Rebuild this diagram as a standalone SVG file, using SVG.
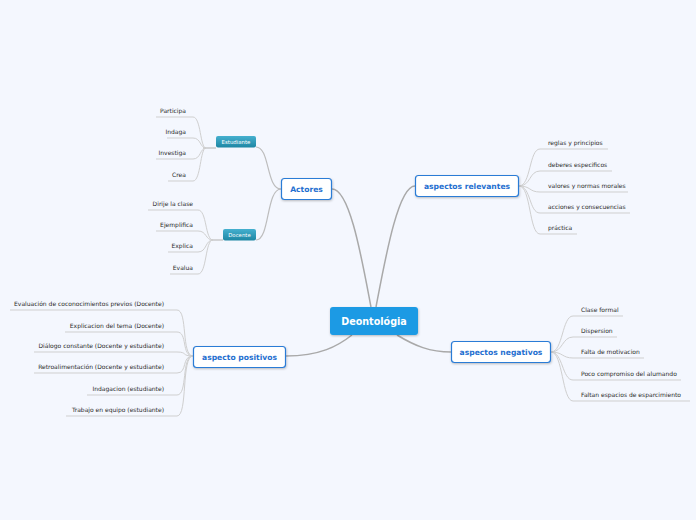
<svg xmlns="http://www.w3.org/2000/svg" width="696" height="520" viewBox="0 0 696 520">
<style>
.bg{fill:#f4f7fe}
.main{stroke:#a9a9a9;stroke-width:1.5;fill:none}
.sub{stroke:#bdbdbd;stroke-width:1.2;fill:none}
.leaf{stroke:#cfcfcf;stroke-width:1;fill:none}
.box{fill:#ffffff;stroke:#2a7bd6;stroke-width:1.2}
.t1{font-family:"DejaVu Sans",Verdana,sans-serif;font-weight:bold;font-size:7.6px;fill:#1f6fd0;text-anchor:middle}
.t0{font-family:"DejaVu Sans",Verdana,sans-serif;font-weight:bold;font-size:9.6px;fill:#ffffff;text-anchor:middle}
.t2{font-family:"DejaVu Sans",Verdana,sans-serif;font-size:5.4px;fill:#ffffff;text-anchor:middle}
.lf{font-family:"DejaVu Sans",Verdana,sans-serif;font-size:6px;fill:#2a2a2a}
.e{text-anchor:end}
</style>
<defs>
<linearGradient id="teal" x1="0" y1="0" x2="0" y2="1">
<stop offset="0" stop-color="#45b0cf"/>
<stop offset="1" stop-color="#1d86a3"/>
</linearGradient>
<filter id="sh" x="-20%" y="-30%" width="140%" height="160%">
<feDropShadow dx="0.5" dy="1" stdDeviation="0.8" flood-color="#000" flood-opacity="0.25"/>
</filter>
</defs>
<rect class="bg" x="0" y="0" width="696" height="520"/>
<g id="connectors">
<path class="main" d="M332,189 C350,189 362,260 371,307"/>
<path class="main" d="M415,186 C398,186 385,260 376,307"/>
<path class="main" d="M286,356 C320,356 338,346 352,335"/>
<path class="main" d="M397,335 C415,346 430,352 451,352"/>
<path class="sub" d="M281,189 C266,189 270,147 256,147"/>
<path class="sub" d="M281,189 C266,189 270,240 256,240"/>
<path class="sub" d="M203,148 L216,148"/>
<path class="sub" d="M212,240 L223,240"/>
<path class="leaf" d="M156,117 L193,117 C201,117 200,148 206,148"/>
<path class="leaf" d="M167,138 L193,138 C201,138 200,148 206,148"/>
<path class="leaf" d="M156,159 L193,159 C201,159 200,148 206,148"/>
<path class="leaf" d="M168,181 L193,181 C201,181 200,148 206,148"/>
<path class="leaf" d="M148,210 L198,210 C207,210 205,240 213,240"/>
<path class="leaf" d="M156,231 L198,231 C207,231 205,240 213,240"/>
<path class="leaf" d="M168,252 L198,252 C207,252 205,240 213,240"/>
<path class="leaf" d="M170,274 L198,274 C207,274 205,240 213,240"/>
<path class="leaf" d="M519,186 C531,186 529,149 540,149 L608,149"/>
<path class="leaf" d="M519,186 C531,186 529,171 540,171 L612,171"/>
<path class="leaf" d="M519,186 C531,186 529,192 540,192 L628,192"/>
<path class="leaf" d="M519,186 C531,186 529,213 540,213 L630,213"/>
<path class="leaf" d="M519,186 C531,186 529,234 540,234 L577,234"/>
<path class="leaf" d="M551,352 C563,352 562,316 573,316 L623,316"/>
<path class="leaf" d="M551,352 C563,352 562,337 573,337 L617,337"/>
<path class="leaf" d="M551,352 C563,352 562,358 573,358 L644,358"/>
<path class="leaf" d="M551,352 C563,352 562,380 573,380 L681,380"/>
<path class="leaf" d="M551,352 C563,352 562,401 573,401 L690,401"/>
<path class="leaf" d="M193,356 C181,356 188,310 177,310 L10,310"/>
<path class="leaf" d="M193,356 C181,356 188,332 177,332 L65,332"/>
<path class="leaf" d="M193,356 C181,356 188,352 177,352 L34,352"/>
<path class="leaf" d="M193,356 C181,356 188,373 177,373 L34,373"/>
<path class="leaf" d="M193,356 C181,356 188,395 177,395 L87,395"/>
<path class="leaf" d="M193,356 C181,356 188,416 177,416 L66,416"/>
</g>
<g id="deontologia">
<rect x="330" y="307" width="88" height="28" rx="3" fill="#1b9ae4" filter="url(#sh)"/>
<text class="t0" x="374" y="324.5">Deontológia</text>
</g>
<g id="actores">
<rect class="box" x="281.5" y="178.5" width="50" height="21" rx="3" filter="url(#sh)"/>
<text class="t1" x="306.5" y="191.5">Actores</text>
</g>
<g id="aspectos-relevantes">
<rect class="box" x="415.5" y="175.5" width="103" height="21" rx="3" filter="url(#sh)"/>
<text class="t1" x="467" y="188.5">aspectos relevantes</text>
</g>
<g id="aspecto-positivos">
<rect class="box" x="193.5" y="346.5" width="92" height="21" rx="3" filter="url(#sh)"/>
<text class="t1" x="239.5" y="359.5">aspecto positivos</text>
</g>
<g id="aspectos-negativos">
<rect class="box" x="451.5" y="341.5" width="99" height="21" rx="3" filter="url(#sh)"/>
<text class="t1" x="501" y="354.5">aspectos negativos</text>
</g>
<g id="estudiante">
<rect x="216" y="136" width="40" height="11.5" rx="2" fill="url(#teal)"/>
<text class="t2" x="236" y="143.8">Estudiante</text>
</g>
<g id="docente">
<rect x="223" y="229" width="33" height="11.5" rx="2" fill="url(#teal)"/>
<text class="t2" x="239.5" y="236.8">Docente</text>
</g>
<g id="leaves-estudiante">
<text class="lf e" x="186" y="113">Participa</text>
<text class="lf e" x="186" y="134">Indaga</text>
<text class="lf e" x="186" y="155">Investiga</text>
<text class="lf e" x="186" y="177">Crea</text>
</g>
<g id="leaves-docente">
<text class="lf e" x="193" y="206">Dirije la clase</text>
<text class="lf e" x="193" y="227">Ejemplifica</text>
<text class="lf e" x="193" y="248">Explica</text>
<text class="lf e" x="193" y="270">Evalua</text>
</g>
<g id="leaves-relevantes">
<text class="lf" x="548" y="145">reglas y principios</text>
<text class="lf" x="548" y="167">deberes especificos</text>
<text class="lf" x="548" y="188">valores y normas morales</text>
<text class="lf" x="548" y="209">acciones y consecuencias</text>
<text class="lf" x="548" y="230">práctica</text>
</g>
<g id="leaves-negativos">
<text class="lf" x="581" y="312">Clase formal</text>
<text class="lf" x="581" y="333">Dispersion</text>
<text class="lf" x="581" y="354">Falta de motivacion</text>
<text class="lf" x="581" y="376">Poco compromiso del alumando</text>
<text class="lf" x="581" y="397">Faltan espacios de esparcimiento</text>
</g>
<g id="leaves-positivos">
<text class="lf e" x="164" y="306">Evaluación de coconocimientos previos (Docente)</text>
<text class="lf e" x="164" y="328">Explicacion del tema (Docente)</text>
<text class="lf e" x="164" y="348">Diálogo constante (Docente y estudiante)</text>
<text class="lf e" x="164" y="369">Retroalimentación (Docente y estudiante)</text>
<text class="lf e" x="164" y="391">Indagacion (estudiante)</text>
<text class="lf e" x="164" y="412">Trabajo en equipo (estudiante)</text>
</g>
</svg>
